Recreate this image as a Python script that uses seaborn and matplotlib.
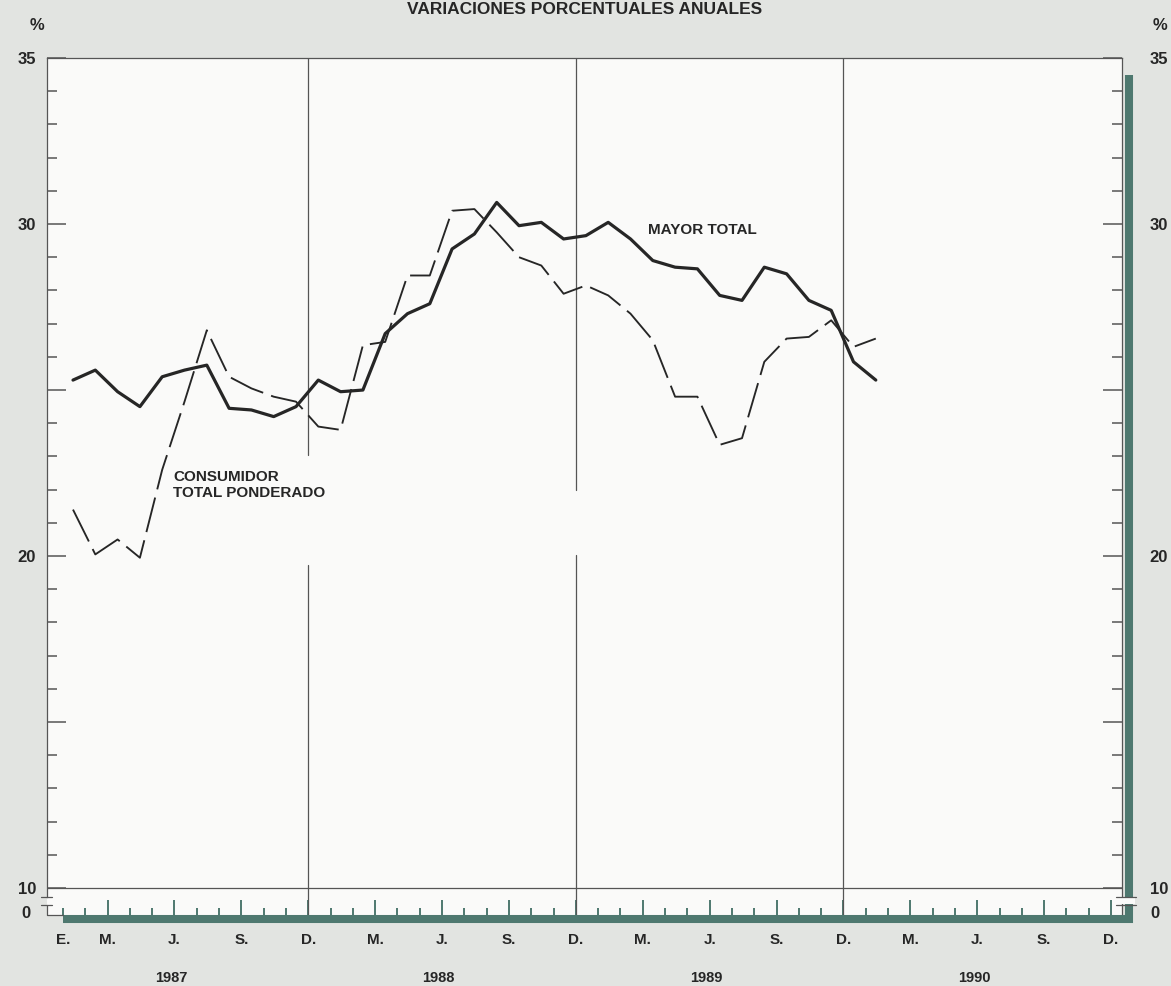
import numpy as np
import pandas as pd
import matplotlib
matplotlib.use('Agg')
import matplotlib.pyplot as plt
from matplotlib.patches import Rectangle
import seaborn as sns

# Monthly series, Jan 1987 - Jan 1990 (annual % change)
meses = np.arange(37)
mayor_total = [25.3, 25.6, 24.95, 24.5, 25.4, 25.6, 25.75, 24.45, 24.4, 24.2, 24.5, 25.3,
               24.95, 25.0, 26.7, 27.3, 27.6, 29.25, 29.7, 30.65, 29.95, 30.05, 29.55, 29.65,
               30.05, 29.55, 28.9, 28.7, 28.65, 27.85, 27.7, 28.7, 28.5, 27.7, 27.4, 25.85,
               25.3]
consumidor_total = [21.4, 20.05, 20.5, 19.95, 22.6, 24.65, 26.8, 25.4, 25.05, 24.8, 24.65, 23.9,
                    23.8, 26.35, 26.45, 28.45, 28.45, 30.4, 30.45, 29.75, 29.0, 28.75, 27.9, 28.15,
                    27.85, 27.3, 26.5, 24.8, 24.8, 23.35, 23.55, 25.85, 26.55, 26.6, 27.1, 26.3,
                    26.55]

# x axis: month index counted from Jan 1987
tick_meses = [0, 2, 5, 8, 11, 14, 17, 20, 23, 26, 29, 32, 35, 38, 41, 44, 47]
tick_etiquetas = ['E.', 'M.', 'J.', 'S.', 'D.', 'M.', 'J.', 'S.', 'D.',
                  'M.', 'J.', 'S.', 'D.', 'M.', 'J.', 'S.', 'D.']
anios = ['1987', '1988', '1989', '1990']
diciembres = [11, 23, 35]

ytick_vals = [10, 15, 20, 25, 30, 35]
ytick_labels = ['10', '', '20', '', '30', '35']

sns.set_theme(style='white')
plt.rcParams['font.family'] = ['Liberation Sans', 'DejaVu Sans']
plt.rcParams['font.weight'] = 'bold'

BG = '#e2e4e1'
PANEL = '#fafaf9'
TEAL = '#4e786f'
INK = '#262626'
GRID = '#555555'
TOFF = -0.45  # ticks sit a bit before the monthly points

W, H = 1171, 986
L, R, T, B = 47, 1122, 58, 915


def ax_x(px):
    return (px - L) / (R - L)


def ax_y(py):
    return (B - py) / (B - T)


fig = plt.figure(figsize=(W / 100, H / 100), dpi=100, facecolor=BG)
ax = fig.add_axes([L / W, 1 - B / H, (R - L) / W, (B - T) / H])
ax.set_facecolor(PANEL)

df = pd.DataFrame({'mes': meses, 'mayor': mayor_total, 'consumidor': consumidor_total})

sns.lineplot(data=df, x='mes', y='mayor', ax=ax, color=INK, lw=2.3, zorder=4)
sns.lineplot(data=df, x='mes', y='consumidor', ax=ax, color=INK, lw=1.35,
             linestyle=(0, (19, 4.5)), zorder=4)
ax.set(xlabel=None, ylabel=None)

# grid: horizontal at 10, vertical at each December
ax.axhline(10, color=GRID, lw=0.9, zorder=1)
gaps = {11: (19.73, 23.04), 23: (20.03, 21.99), 35: None}
for k in diciembres:
    xv = k + TOFF
    if gaps[k] is None:
        ax.plot([xv, xv], [9.19, 35], color=GRID, lw=0.9, zorder=1)
    else:
        lo, hi = gaps[k]
        ax.plot([xv, xv], [9.19, lo], color=GRID, lw=0.9, zorder=1)
        ax.plot([xv, xv], [hi, 35], color=GRID, lw=0.9, zorder=1)

# x ticks
ax.set_xticks([m + TOFF for m in tick_meses])
ax.set_xticklabels(tick_etiquetas)
ax.set_xticks([m + TOFF for m in range(48)], minor=True)
ax.tick_params(axis='x', which='major', direction='in', length=11, width=1.4, color=TEAL,
               pad=13, labelsize=11, labelcolor=INK, bottom=True)
ax.tick_params(axis='x', which='minor', direction='in', length=5, width=1.4, color=TEAL,
               bottom=True)
ax.xaxis.get_major_ticks()[0].tick1line.set_markersize(5)

# y ticks, left
ax.set_yticks(ytick_vals)
ax.set_yticklabels(ytick_labels)
ax.set_yticks([v for v in range(10, 35) if v % 5], minor=True)
ax.tick_params(axis='y', which='major', direction='in', length=14, width=1.1, color=GRID,
               left=True, right=False, pad=8, labelsize=12, labelcolor=INK)
ax.tick_params(axis='y', which='minor', direction='in', length=7, width=1.1, color=GRID,
               left=True, right=False)

ax.set_xlim(-1.166, 47.04)
ax.set_ylim(9.19, 35)

# y ticks, right
ax2 = ax.twinx()
ax2.set_ylim(ax.get_ylim())
ax2.set_yticks(ytick_vals)
ax2.set_yticklabels(ytick_labels)
ax2.set_yticks([v for v in range(10, 35) if v % 5], minor=True)
ax2.tick_params(axis='y', which='major', direction='in', length=14, width=1.1, color=GRID,
                right=True, left=False, labelright=True, labelleft=False, pad=20,
                labelsize=12, labelcolor=INK)
ax2.tick_params(axis='y', which='minor', direction='in', length=7, width=1.1, color=GRID,
                right=True, left=False)
for s in ax2.spines.values():
    s.set_visible(False)

# frame
ax.spines['bottom'].set_visible(False)
for side in ['top', 'left', 'right']:
    ax.spines[side].set_color(GRID)
    ax.spines[side].set_linewidth(0.9)
ax.spines['left'].set_bounds(9.73, 35)

# thick shadow frame bottom and right
ax.plot([ax_x(63), ax_x(1129), ax_x(1129)], [ax_y(919), ax_y(919), ax_y(75)],
        transform=ax.transAxes, color=TEAL, lw=5.8, clip_on=False,
        solid_joinstyle='miter', solid_capstyle='butt', zorder=6)

# axis break 10 / 0
ytr = ax.get_yaxis_transform()
ax.plot([0, 0, ax_x(63)], [9.49, 9.19, 9.19], transform=ytr, color=GRID, lw=0.9,
        clip_on=False, zorder=6)
for yb in [9.73, 9.49]:
    ax.plot([-0.006, 0.005], [yb, yb], transform=ytr, color=GRID, lw=0.9,
            clip_on=False, zorder=7)
    ax.plot([0.994, 1.013], [yb, yb], transform=ytr, color=GRID, lw=0.9,
            clip_on=False, zorder=7)
ax.add_patch(Rectangle((0.996, 9.52), 0.016, 0.18, transform=ytr, facecolor=PANEL,
                       edgecolor='none', clip_on=False, zorder=6.5))
ax.text(ax_x(31), 9.25, '0', transform=ytr, ha='right', va='center', fontsize=12,
        weight='bold', color=INK)
ax.text(ax_x(1150), 9.25, '0', transform=ytr, ha='left', va='center', fontsize=12,
        weight='bold', color=INK)

# years under the month labels
xtr = ax.get_xaxis_transform()
for j, anio in enumerate(anios):
    ax.text(12 * j + 4.4, ax_y(978), anio, transform=xtr, ha='center', va='center',
            fontsize=10.5, weight='bold', color=INK)

# series labels
ax.text(25.78, 29.82, 'MAYOR TOTAL', ha='left', va='center', fontsize=11,
        weight='bold', color=INK, zorder=5)
ax.text(4.48, 22.14, 'CONSUMIDOR\nTOTAL PONDERADO', ha='left', va='center',
        fontsize=11, weight='bold', color=INK, linespacing=1.25, zorder=5)

fig.text(585 / W, 1 - 10 / H, 'VARIACIONES PORCENTUALES ANUALES', ha='center',
         va='center', fontsize=12.5, weight='bold', color=INK)
fig.text(37 / W, 1 - 25 / H, '%', ha='center', va='center', fontsize=12,
         weight='bold', color=INK)
fig.text(1160 / W, 1 - 25 / H, '%', ha='center', va='center', fontsize=12,
         weight='bold', color=INK)

fig.savefig('out.png', dpi=100, facecolor=BG)
plt.close()
